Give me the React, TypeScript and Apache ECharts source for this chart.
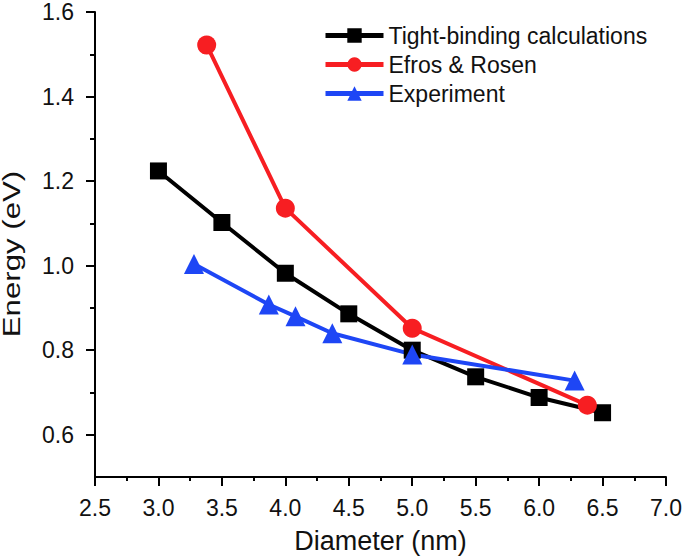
import React, { useEffect, useRef } from "react";
import * as echarts from "echarts";

const tbX = [3.0, 3.5, 4.0, 4.5, 5.0, 5.5, 6.0, 6.5];
const tbY = [1.224, 1.102, 0.982, 0.886, 0.8, 0.737, 0.688, 0.652];
const erX = [3.38, 4.0, 5.0, 6.38];
const erY = [1.522, 1.136, 0.852, 0.67];
const exX = [3.28, 3.87, 4.08, 4.37, 5.0, 6.28];
const exY = [1.004, 0.908, 0.88, 0.84, 0.79, 0.728];

const yMajor = [0.6, 0.8, 1.0, 1.2, 1.4, 1.6];
const yMinor = [0.7, 0.9, 1.1, 1.3, 1.5];

const FONT = "Arial, 'Liberation Sans', sans-serif";
const RED = "#f71e22";
const BLUE = "#1e46f5";

const zip = (xs: number[], ys: number[]) => xs.map((x, i) => [x, ys[i]]);

export default function App() {
  const ref = useRef<HTMLDivElement>(null);
  useEffect(() => {
    const chart = echarts.init(ref.current!, null, { renderer: "svg" });
    const lineC = { color: "#000", width: 2 };
    chart.setOption({
      animation: false,
      backgroundColor: "#fff",
      grid: { left: 95, right: 17, top: 12, bottom: 81, containLabel: false },
      legend: {
        orient: "vertical",
        left: 323,
        top: 24,
        padding: 0,
        itemWidth: 58,
        itemHeight: 18,
        itemGap: 6,
        lineStyle: { width: 5 },
        textStyle: { color: "#111", fontSize: 23, fontFamily: FONT },
        data: ["Tight-binding calculations", "Efros & Rosen", "Experiment"],
      },
      graphic: [
        {
          type: "text",
          x: 12,
          y: 254,
          rotation: Math.PI / 2,
          scaleX: 1.3,
          style: {
            text: "Energy (eV)",
            fontSize: 24,
            fontFamily: FONT,
            fill: "#111",
            textAlign: "center",
            textVerticalAlign: "middle",
          },
        },
      ],
      xAxis: {
        type: "value",
        min: 2.5,
        max: 7.0,
        interval: 0.5,
        name: "Diameter (nm)",
        nameLocation: "middle",
        nameGap: 50,
        nameTextStyle: { color: "#111", fontSize: 27, fontFamily: FONT },
        axisLine: { show: true, lineStyle: lineC },
        axisTick: { show: true, inside: false, length: 9, lineStyle: lineC },
        minorTick: { show: true, splitNumber: 2, length: 4, lineStyle: lineC },
        splitLine: { show: false },
        axisLabel: {
          color: "#111",
          fontSize: 23,
          fontFamily: FONT,
          margin: 19,
          formatter: (v: number) => v.toFixed(1),
        },
      },
      yAxis: [
        {
          type: "value",
          min: 0.5,
          max: 1.6,
          interval: 0.1,
          position: "left",
          axisLine: { show: true, lineStyle: lineC },
          axisTick: { show: true, inside: false, length: 9, lineStyle: lineC, customValues: yMajor },
          splitLine: { show: false },
          axisLabel: {
            color: "#111",
            fontSize: 23,
            fontFamily: FONT,
            margin: 21,
            customValues: yMajor,
            formatter: (v: number) => v.toFixed(1),
          },
        },
        {
          type: "value",
          min: 0.5,
          max: 1.6,
          interval: 0.1,
          position: "left",
          offset: 0,
          axisLine: { show: false },
          axisTick: { show: true, inside: false, length: 5, lineStyle: lineC, customValues: yMinor },
          splitLine: { show: false },
          axisLabel: { show: false },
        },
      ],
      series: [
        {
          name: "Tight-binding calculations",
          type: "line",
          data: zip(tbX, tbY),
          symbol: "rect",
          symbolSize: 17,
          color: "#000",
          lineStyle: { width: 4, color: "#000" },
          itemStyle: { color: "#000" },
        },
        {
          name: "Efros & Rosen",
          type: "line",
          data: zip(erX, erY),
          symbol: "circle",
          symbolSize: 19,
          color: RED,
          lineStyle: { width: 4, color: RED },
          itemStyle: { color: RED },
        },
        {
          name: "Experiment",
          type: "line",
          data: zip(exX, exY),
          symbol: "triangle",
          symbolSize: 20,
          color: BLUE,
          lineStyle: { width: 4, color: BLUE },
          itemStyle: { color: BLUE },
        },
      ],
    });
    return () => chart.dispose();
  }, []);
  return <div ref={ref} style={{ width: 685, height: 559, position: "absolute", left: 0, top: 0 }} />;
}
